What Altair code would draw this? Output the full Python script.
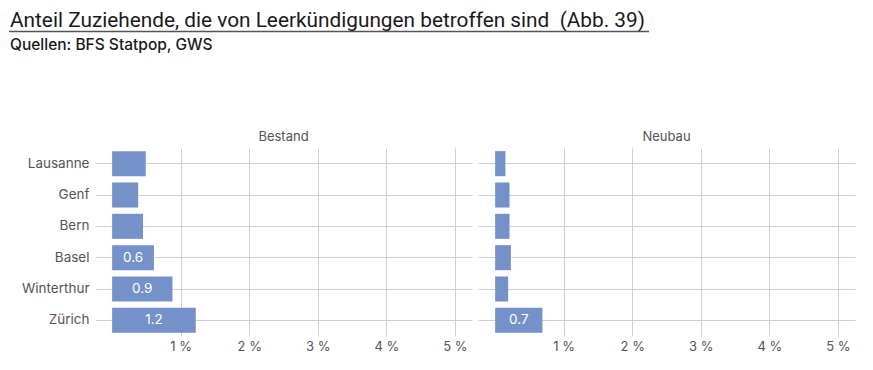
import altair as alt
import pandas as pd

# ---- data ----
cities = ["Lausanne", "Genf", "Bern", "Basel", "Winterthur", "Zürich"]
bestand = [0.49, 0.38, 0.45, 0.61, 0.88, 1.22]
neubau = [0.15, 0.21, 0.21, 0.23, 0.19, 0.69]
panels = ["Bestand", "Neubau"]
x_ticks = [1, 2, 3, 4, 5]

title_text = "Anteil Zuziehende, die von Leerkündigungen betroffen sind\u00a0 (Abb. 39)"
subtitle_text = "Quellen: BFS Statpop, GWS"

rows = []
for c, b, n in zip(cities, bestand, neubau):
    rows.append({"city": c, "typ": panels[0], "value": b})
    rows.append({"city": c, "typ": panels[1], "value": n})
df = pd.DataFrame(rows)

TFONT = "Roboto"
FONT = "Inter"
GRID = "#d0d0d0"
LABEL = "#555555"
BAR = "#7492c9"
LEFT = -85  # header offset relative to the panel plot area

# ---- header (title, underline, source) ----
hdr_df = pd.DataFrame({"title": [title_text], "subtitle": [subtitle_text]})
hbase = alt.Chart(hdr_df)
h_title = hbase.mark_text(align="left", baseline="alphabetic", font=TFONT,
                          fontSize=20.8, color="#1a1a1a").encode(
    x=alt.value(LEFT), y=alt.value(19), text="title:N")
h_line = hbase.mark_rule(color="#555555", strokeWidth=1.6).encode(
    x=alt.value(LEFT - 1), x2=alt.value(LEFT + 639), y=alt.value(23.5))
h_sub = hbase.mark_text(align="left", baseline="alphabetic", font=FONT,
                        fontSize=15.5, fontWeight=500, color="#1a1a1a").encode(
    x=alt.value(LEFT), y=alt.value(42), text="subtitle:N")
header = alt.layer(h_title, h_line, h_sub).properties(width=377, height=122.5)

# ---- panels ----
y_enc = alt.Y("city:N", sort=cities,
              scale=alt.Scale(paddingInner=0.2, paddingOuter=0.1),
              axis=alt.Axis(title=None, ticks=False, domain=False, labelPadding=6,
                            labelFont=FONT, labelFontSize=13.5, labelColor=LABEL,
                            grid=True, gridColor=GRID, bandPosition=0.5, minExtent=87))
x_enc = alt.X("value:Q",
              scale=alt.Scale(domain=[-0.25, 5.25], nice=False, zero=False),
              axis=alt.Axis(title=None, values=x_ticks, labelExpr="datum.value + ' %'",
                            ticks=False, domain=False, grid=True, gridColor=GRID,
                            labelFont=FONT, labelFontSize=13, labelColor=LABEL,
                            labelPadding=4))

bars = alt.Chart().mark_bar(color=BAR).encode(y=y_enc, x=x_enc, x2=alt.datum(0))
labels = alt.Chart().transform_filter("datum.value >= 0.5").transform_calculate(
    mid="datum.value / 2").mark_text(color="white", font=FONT, fontSize=13.5).encode(
    y=y_enc, x=alt.X("mid:Q"), text=alt.Text("value:Q", format=".1f"))

panel = alt.layer(bars, labels, data=df).properties(width=377, height=188).facet(
    column=alt.Column("typ:N", sort=panels,
                      header=alt.Header(title=None, labelFont=FONT, labelFontSize=13,
                                        labelColor=LABEL, labelPadding=4)),
    spacing=6)

chart = alt.vconcat(header, panel, spacing=0).properties(
    padding={"left": 0, "top": 0, "right": 5, "bottom": 5}
).configure_view(stroke=None).configure_concat(spacing=0)

chart.save("out.html", embed_options={"renderer": "svg", "actions": False})
